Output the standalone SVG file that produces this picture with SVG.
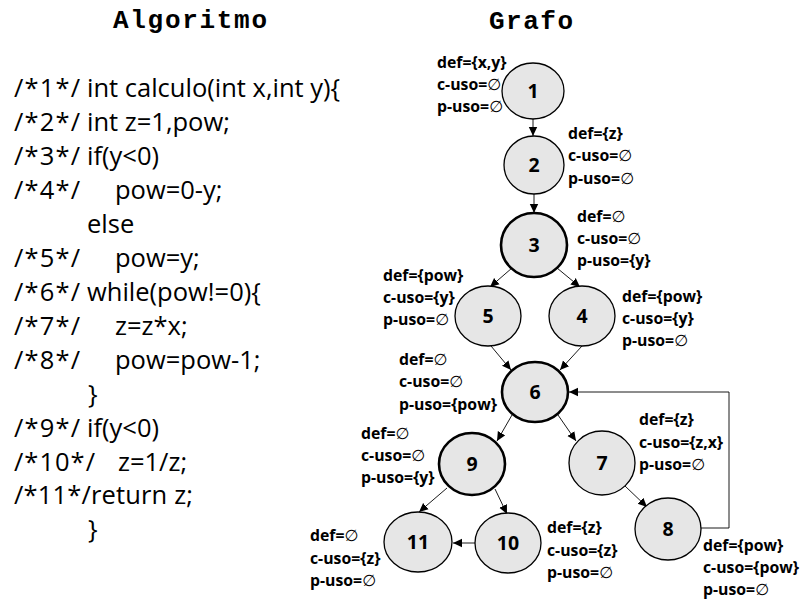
<svg xmlns="http://www.w3.org/2000/svg" width="803" height="601" viewBox="0 0 803 601">
<style>
.title{font-family:"Liberation Mono","Courier New",monospace;font-weight:bold;font-size:26px;fill:#000}
.code{font-family:"Open Sans","Liberation Sans",sans-serif;font-size:25.5px;fill:#000}
.lbl{font-family:"Open Sans","Liberation Sans",sans-serif;font-weight:bold;font-size:15.8px;fill:#000}
.es{font-family:"DejaVu Sans","Noto Sans",sans-serif;font-weight:normal}
.node ellipse{fill:#e6e6e6;stroke:#000;stroke-width:1.3}
.node.thick ellipse{stroke-width:2.6}
.num{font-family:"Open Sans","Liberation Sans",sans-serif;font-weight:bold;font-size:19.5px;text-anchor:middle;fill:#000}
.edge{fill:none;stroke:#000;stroke-width:0.9;marker-end:url(#arr)}
</style>
<defs>
<marker id="arr" markerWidth="10" markerHeight="10" refX="9" refY="5" orient="auto" markerUnits="userSpaceOnUse">
<path d="M0,0.8 L9,5 L0,9.2 Z" fill="#000"/>
</marker>
</defs>
<rect width="803" height="601" fill="#fff"/>
<text class="title" x="113" y="28" textLength="154" lengthAdjust="spacing">Algoritmo</text>
<text class="title" x="489" y="29" textLength="84" lengthAdjust="spacing">Grafo</text>
<g id="code" class="code">
<text y="97"><tspan x="14" textLength="66" lengthAdjust="spacing">/*1*/</tspan> <tspan x="87">int calculo(int x,int y){</tspan></text>
<text y="131"><tspan x="14" textLength="66" lengthAdjust="spacing">/*2*/</tspan> <tspan x="87">int z=1,pow;</tspan></text>
<text y="165"><tspan x="14" textLength="66" lengthAdjust="spacing">/*3*/</tspan> <tspan x="87">if(y&lt;0)</tspan></text>
<text y="199"><tspan x="14" textLength="66" lengthAdjust="spacing">/*4*/</tspan> <tspan x="115">pow=0-y;</tspan></text>
<text y="233"><tspan x="87">else</tspan></text>
<text y="267"><tspan x="14" textLength="66" lengthAdjust="spacing">/*5*/</tspan> <tspan x="115">pow=y;</tspan></text>
<text y="301"><tspan x="14" textLength="66" lengthAdjust="spacing">/*6*/</tspan> <tspan x="87">while(pow!=0){</tspan></text>
<text y="335"><tspan x="14" textLength="66" lengthAdjust="spacing">/*7*/</tspan> <tspan x="115">z=z*x;</tspan></text>
<text y="369"><tspan x="14" textLength="66" lengthAdjust="spacing">/*8*/</tspan> <tspan x="115">pow=pow-1;</tspan></text>
<text y="403"><tspan x="88">}</tspan></text>
<text y="437"><tspan x="14" textLength="66" lengthAdjust="spacing">/*9*/</tspan> <tspan x="87">if(y&lt;0)</tspan></text>
<text y="471"><tspan x="14" textLength="81" lengthAdjust="spacing">/*10*/</tspan> <tspan x="118">z=1/z;</tspan></text>
<text y="504"><tspan x="14" textLength="179" lengthAdjust="spacing">/*11*/return z;</tspan></text>
<text y="538"><tspan x="88">}</tspan></text>
</g>
<g id="connectors">
<path class="edge" d="M533,119 L533,136"/>
<path class="edge" d="M534,194 L534,213"/>
<path class="edge" d="M512,268 L490,287"/>
<path class="edge" d="M557,268 L580,287"/>
<path class="edge" d="M491,346 L511,370"/>
<path class="edge" d="M582,346 L560,370"/>
<path class="edge" d="M512,415 L497,441"/>
<path class="edge" d="M558,415 L576,441"/>
<path class="edge" d="M447,488 L419,512"/>
<path class="edge" d="M495,489 L507,514"/>
<path class="edge" d="M625,486 L647,507"/>
<path class="edge" d="M475,543 L453,543"/>
<path class="edge" d="M701,528 L729,528 L729,392 L569,392"/>
</g>
<g id="n1" class="node"><ellipse cx="533" cy="91" rx="31" ry="28"/><text class="num" x="533" y="98">1</text>
<text class="lbl" x="437" y="68">def={x,y}</text><text class="lbl" x="437" y="90">c-uso=<tspan class="es">∅</tspan></text><text class="lbl" x="437" y="112">p-uso=<tspan class="es">∅</tspan></text></g>
<g id="n2" class="node"><ellipse cx="534" cy="165" rx="30" ry="29"/><text class="num" x="534" y="172">2</text>
<text class="lbl" x="568" y="139">def={z}</text><text class="lbl" x="568" y="161">c-uso=<tspan class="es">∅</tspan></text><text class="lbl" x="568" y="184">p-uso=<tspan class="es">∅</tspan></text></g>
<g id="n3" class="node thick"><ellipse cx="534" cy="245" rx="33" ry="32"/><text class="num" x="534" y="252">3</text>
<text class="lbl" x="577" y="222">def=<tspan class="es">∅</tspan></text><text class="lbl" x="577" y="244">c-uso=<tspan class="es">∅</tspan></text><text class="lbl" x="577" y="266">p-uso={y}</text></g>
<g id="n5" class="node"><ellipse cx="488" cy="316" rx="33" ry="30"/><text class="num" x="488" y="323">5</text>
<text class="lbl" x="383" y="281">def={pow}</text><text class="lbl" x="383" y="303">c-uso={y}</text><text class="lbl" x="383" y="325">p-uso=<tspan class="es">∅</tspan></text></g>
<g id="n4" class="node"><ellipse cx="582" cy="316" rx="33" ry="30"/><text class="num" x="582" y="323">4</text>
<text class="lbl" x="622" y="302">def={pow}</text><text class="lbl" x="622" y="324">c-uso={y}</text><text class="lbl" x="622" y="346">p-uso=<tspan class="es">∅</tspan></text></g>
<g id="n6" class="node thick"><ellipse cx="535" cy="392" rx="33" ry="30"/><text class="num" x="535" y="399">6</text>
<text class="lbl" x="399" y="365">def=<tspan class="es">∅</tspan></text><text class="lbl" x="399" y="387">c-uso=<tspan class="es">∅</tspan></text><text class="lbl" x="399" y="410">p-uso={pow}</text></g>
<g id="n9" class="node thick"><ellipse cx="472" cy="464" rx="33" ry="31"/><text class="num" x="472" y="471">9</text>
<text class="lbl" x="361" y="439">def=<tspan class="es">∅</tspan></text><text class="lbl" x="361" y="461">c-uso=<tspan class="es">∅</tspan></text><text class="lbl" x="361" y="483">p-uso={y}</text></g>
<g id="n7" class="node"><ellipse cx="602" cy="463" rx="33" ry="32"/><text class="num" x="602" y="470">7</text>
<text class="lbl" x="639" y="425">def={z}</text><text class="lbl" x="639" y="448">c-uso={z,x}</text><text class="lbl" x="639" y="470">p-uso=<tspan class="es">∅</tspan></text></g>
<g id="n8" class="node"><ellipse cx="668" cy="529" rx="33" ry="31"/><text class="num" x="668" y="536">8</text>
<text class="lbl" x="703" y="551">def={pow}</text><text class="lbl" x="703" y="573">c-uso={pow}</text><text class="lbl" x="703" y="595">p-uso=<tspan class="es">∅</tspan></text></g>
<g id="n11" class="node"><ellipse cx="418" cy="542" rx="34" ry="30"/><text class="num" x="418" y="549">11</text>
<text class="lbl" x="310" y="541">def=<tspan class="es">∅</tspan></text><text class="lbl" x="310" y="564">c-uso={z}</text><text class="lbl" x="310" y="586">p-uso=<tspan class="es">∅</tspan></text></g>
<g id="n10" class="node"><ellipse cx="508" cy="543" rx="33" ry="30"/><text class="num" x="508" y="550">10</text>
<text class="lbl" x="547" y="533">def={z}</text><text class="lbl" x="547" y="556">c-uso={z}</text><text class="lbl" x="547" y="578">p-uso=<tspan class="es">∅</tspan></text></g>
</svg>
